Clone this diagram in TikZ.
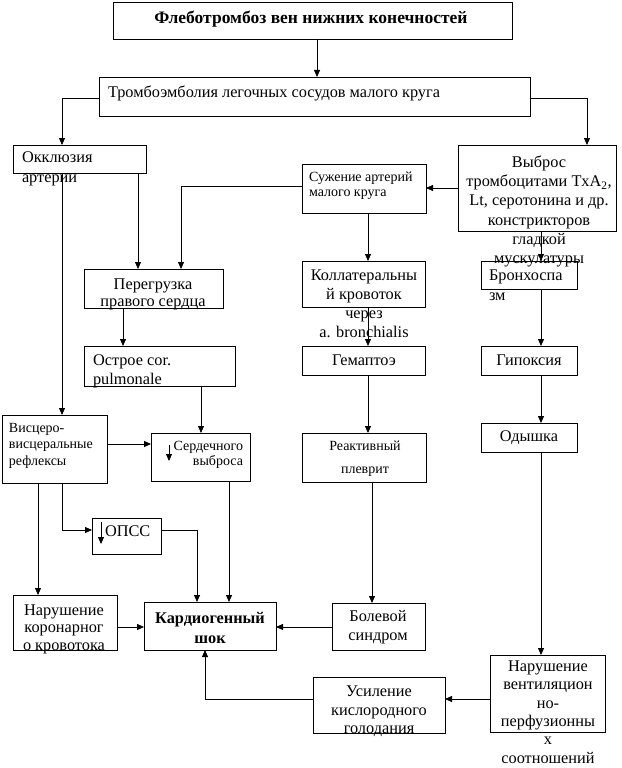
\documentclass[tikz,border=0pt]{standalone}
\usepackage{fontspec}
\setmainfont{Liberation Serif}
\usetikzlibrary{arrows.meta}
\newcommand\fsz[2]{\fontsize{#1}{#2}\selectfont}
\newcommand\mybox[5]{\node[box, minimum width={(#4-#2)*1pt}, minimum height={(#5-#3)*1pt}] (#1) at ({(#2+#4)/2},{(#3+#5)/2}) {};}
\begin{document}
\begin{tikzpicture}[x=1pt,y=-1pt,
  box/.style={draw, line width=0.8pt, inner sep=0pt, outer sep=0pt},
  txt/.style={inner sep=0pt, outer sep=0pt, font=\fsz{16.3}{19}},
  arr/.style={line width=0.8pt, -{Triangle[length=7pt,width=6pt]}},
  ln/.style={line width=0.8pt}]
\fill[white] (0,0) rectangle (621,768);
\useasboundingbox (0,0) rectangle (621,768);
% boxes
\mybox{A}{113}{2}{512}{39}
\mybox{B}{99}{77}{530}{116}
\mybox{C}{13}{145}{146}{173}
\mybox{D}{302}{164}{426}{213}
\mybox{E}{458}{145}{616}{231}
\mybox{F}{84}{269}{223}{308}
\mybox{G}{84}{346}{235}{386}
\mybox{H}{302}{261}{425}{307}
\mybox{I}{481}{261}{577}{289}
\mybox{J}{302}{346}{425}{375}
\mybox{K}{481}{346}{577}{375}
\mybox{L}{2}{415}{107}{483}
\mybox{M}{151}{433}{250}{481}
\mybox{N}{92}{518}{161}{554}
\mybox{O}{13}{595}{117}{650}
\mybox{P}{144}{602}{276}{650}
\mybox{Q}{302}{433}{426}{482}
\mybox{R}{481}{423}{577}{452}
\mybox{S}{332}{603}{425}{650}
\mybox{T}{490}{655}{605}{732}
\mybox{U}{313}{677}{445}{733}
% texts
\node[txt, font=\fsz{17.5}{20}\bfseries] (At) at (311,19) {Флеботромбоз вен нижних конечностей};
\node[txt, anchor=west] (Bt) at (108,93) {Тромбоэмболия легочных сосудов малого круга};
\node[txt, anchor=west, align=left, font=\fsz{16.3}{20}] (Ct) at (22,169) {Окклюзия\\артерии};
\node[txt, anchor=west, align=left, font=\fsz{14}{15}] (Dt) at (309,185.5) {Сужение артерий\\малого круга};
\node[txt, align=center, font=\fsz{16.3}{19.3}] (Et) at (539,211.3) {Выброс\\тромбоцитами TxA\textsubscript{2},\\Lt, серотонина и др.\\констрикторов\\гладкой\\мускулатуры};
\node[txt, align=center, font=\fsz{16.3}{17}] (Ft) at (153,294.5) {Перегрузка\\правого сердца};
\node[txt, anchor=west, align=left, font=\fsz{16.3}{19}] (Gt) at (93,371.5) {Острое cor.\\pulmonale};
\node[txt, align=center, font=\fsz{16.3}{19}] (Ht) at (364,303.75) {Коллатеральны\\й кровоток\\через\\a. bronchialis};
\node[txt, anchor=west, align=left, font=\fsz{16.3}{20}] (It) at (489,285) {Бронхоспа\\зм};
\node[txt] (Jt) at (364,360) {Гемаптоэ};
\node[txt] (Kt) at (529,360) {Гипоксия};
\node[txt, anchor=west, align=left, font=\fsz{14}{16.5}] (Lt) at (9,445.7) {Висцеро-\\висцеральные\\рефлексы};
\node[txt, anchor=east, align=right, font=\fsz{14}{15}] (Mt) at (243,454.5) {Сердечного\\выброса};
\node[txt, anchor=west] (Nt) at (105,531) {ОПСС};
\node[txt, align=center, font=\fsz{16.3}{17.5}] (Ot) at (64,629) {Нарушение\\коронарног\\о кровотока};
\node[txt, align=center, font=\fsz{16.3}{20}\bfseries] (Pt) at (210,628) {Кардиогенный\\шок};
\node[txt, align=center, font=\fsz{14}{23}] (Qt) at (365,458.5) {Реактивный\\плеврит};
\node[txt] (Rt) at (529,438) {Одышка};
\node[txt, align=center, font=\fsz{16.3}{19}] (St) at (378,627.5) {Болевой\\синдром};
\node[txt, align=center, font=\fsz{16.3}{18.3}] (Tt) at (548,712) {Нарушение\\вентиляцион\\но-\\перфузионны\\х\\соотношений};
\node[txt, align=center, font=\fsz{16.3}{18.5}] (Ut) at (379,711.7) {Усиление\\кислородного\\голодания};
% helper coordinates
\foreach \v in {38,62,101,123,138,169,181,197,201,205,229,317,368,372,541,587}{\coordinate (v\v) at (\v,0);}
\foreach \h in {98,186,188,444,530,627,699}{\coordinate (h\h) at (0,\h);}
\coordinate (ma1) at (169,445); \coordinate (ma2) at (169,461);
\coordinate (na1) at (101,522); \coordinate (na2) at (101,544);
% connectors
\draw[arr] (A.south -| v317) -- (B.north -| v317);
\draw[arr] (B.west |- h98) -| (C.north -| v62);
\draw[arr] (B.east |- h98) -| (E.north -| v587);
\draw[arr] (C.south -| v62) -- (L.north -| v62);
\draw[arr] (C.south -| v138) -- (F.north -| v138);
\draw[arr] (D.west |- h186) -| (F.north -| v181);
\draw[arr] (E.west |- h188) -- (D.east |- h188);
\draw[arr] (D.south -| v368) -- (H.north -| v368);
\draw[arr] (E.south -| v541) -- (I.north -| v541);
\draw[arr] (F.south -| v123) -- (G.north -| v123);
\draw[arr] (H.south -| v368) -- (J.north -| v368);
\draw[arr] (I.south -| v541) -- (K.north -| v541);
\draw[arr] (G.south -| v201) -- (M.north -| v201);
\draw[arr] (J.south -| v368) -- (Q.north -| v368);
\draw[arr] (K.south -| v541) -- (R.north -| v541);
\draw[arr] (L.east |- h444) -- (M.west |- h444);
\draw[arr] (L.south -| v38) -- (O.north -| v38);
\draw[arr] (L.south -| v62) |- (N.west |- h530);
\draw[arr] (M.south -| v229) -- (P.north -| v229);
\draw[arr] (N.east |- h530) -| (P.north -| v197);
\draw[arr] (O.east |- h627) -- (P.west |- h627);
\draw[arr] (Q.south -| v372) -- (S.north -| v372);
\draw[arr] (S.west |- h627) -- (P.east |- h627);
\draw[arr] (R.south -| v541) -- (T.north -| v541);
\draw[arr] (T.west |- h699) -- (U.east |- h699);
\draw[arr] (U.west |- h699) -| (P.south -| v205);
% down arrows inside boxes
\draw[arr] (ma1) -- (ma2);
\draw[arr] (na1) -- (na2);
\end{tikzpicture}
\end{document}
